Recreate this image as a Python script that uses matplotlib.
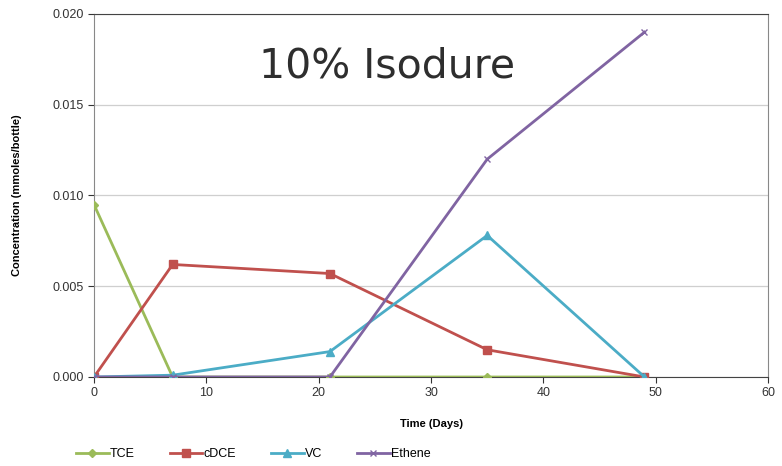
import matplotlib
matplotlib.use("Agg")
import matplotlib.pyplot as plt

days = [0, 7, 21, 35, 49]
tce = [0.0095, 0.0, 0.0, 0.0, 0.0]
cdce = [0.0, 0.0062, 0.0057, 0.0015, 0.0]
vc = [0.0, 0.0001, 0.0014, 0.0078, 0.0]
ethene = [0.0, 0.0, 0.0, 0.012, 0.019]
series_names = ["TCE", "cDCE", "VC", "Ethene"]
xticks = [0, 10, 20, 30, 40, 50, 60]
yticks = [0.000, 0.005, 0.010, 0.015, 0.020]

plt.rcParams['font.family'] = ['Liberation Sans', 'DejaVu Sans']

fig = plt.figure(figsize=(7.82, 4.66), dpi=100)
ax = fig.add_axes([0.1202, 0.191, 0.862, 0.779])

styles = [
    dict(color="#9BBB59", marker="D", markersize=4),
    dict(color="#C0504D", marker="s", markersize=6),
    dict(color="#4BACC6", marker="^", markersize=6),
    dict(color="#8064A2", marker="x", markersize=5, markeredgewidth=1),
]
for vals, name, st in zip([tce, cdce, vc, ethene], series_names, styles):
    ax.plot(days, vals, label=name, linewidth=2.0, zorder=3, **st)

ax.set_xlim(0, 60)
ax.set_ylim(0, 0.020)
ax.set_xticks(xticks)
ax.set_yticks(yticks)
ax.set_yticklabels([f"{v:.3f}" for v in yticks])
ax.tick_params(axis='both', labelsize=9, colors="#333333", length=4, width=0.8)
ax.tick_params(axis='x', direction='out')
ax.grid(axis='y', color="#CFCFCF", linewidth=0.9)
ax.set_axisbelow(True)
for s in ["left", "right"]:
    ax.spines[s].set_color("#888888")
ax.spines["top"].set_color("#444444")
ax.spines["bottom"].set_color("#444444")

ax.set_xlabel("Time (Days)", fontsize=8, fontweight="bold", labelpad=14)
ax.set_ylabel("Concentration (mmoles/bottle)", fontsize=8, fontweight="bold", labelpad=22)

ax.text(0.435, 0.854, "10% Isodure", transform=ax.transAxes, fontsize=29.5,
        ha="center", va="center", color="#2e2e2e", family="DejaVu Sans")

fig.legend(loc="lower left", bbox_to_anchor=(0.083, -0.012), ncol=4, frameon=False,
           fontsize=9, handlelength=2.6, columnspacing=2.8, handletextpad=0.1)

fig.savefig("out.png", dpi=100)
